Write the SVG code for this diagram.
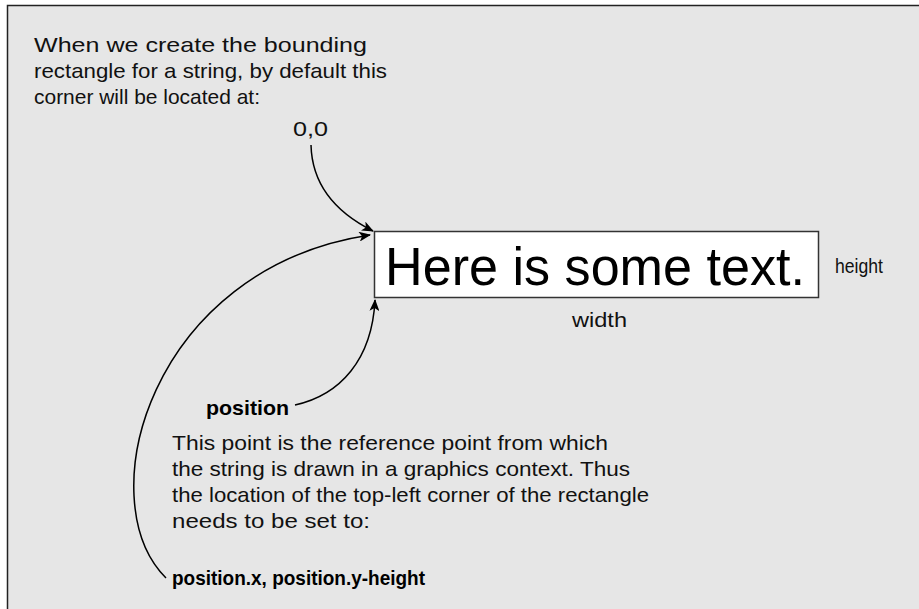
<svg xmlns="http://www.w3.org/2000/svg" width="919" height="609" viewBox="0 0 919 609">
<style>
  .t { font-family: "Liberation Sans", Arial, sans-serif; font-size: 21px; fill: #111; }
  .b { font-family: "Liberation Sans", Arial, sans-serif; font-size: 21px; font-weight: bold; fill: #000; }
  .c { fill: none; stroke: #000; stroke-width: 1.5; }
</style>
<defs>
  <marker id="ah" viewBox="0 0 12 10" markerWidth="12" markerHeight="10" refX="11" refY="5" orient="auto" markerUnits="userSpaceOnUse">
    <path d="M0,0 L12,5 L0,10 L3,5 Z" fill="#000"/>
  </marker>
</defs>
<rect x="0" y="0" width="919" height="609" fill="#ffffff"/>
<rect id="frame" x="7.5" y="5.5" width="930" height="620" fill="#e6e6e6" stroke="#222" stroke-width="1.5"/>

<g id="intro">
  <text class="t" x="34" y="52" textLength="333" lengthAdjust="spacingAndGlyphs">When we create the bounding</text>
  <text class="t" x="34" y="78" textLength="353" lengthAdjust="spacingAndGlyphs">rectangle for a string, by default this</text>
  <text class="t" x="34" y="104" textLength="226" lengthAdjust="spacingAndGlyphs">corner will be located at:</text>
  <text class="t" x="293" y="136" textLength="35" lengthAdjust="spacingAndGlyphs">0,0</text>
</g>

<g id="box">
  <rect x="374.5" y="231.5" width="444" height="66" fill="#ffffff" stroke="#333" stroke-width="1.5"/>
  <text x="385" y="285" font-family="'Liberation Sans', Arial, sans-serif" font-size="54" fill="#000" textLength="420" lengthAdjust="spacingAndGlyphs">Here is some text.</text>
</g>

<g id="height-label">
  <text class="t" x="835" y="273" font-size="18" textLength="48" lengthAdjust="spacingAndGlyphs">height</text>
</g>
<g id="width-label">
  <text class="t" x="572" y="327" font-size="18" textLength="55" lengthAdjust="spacingAndGlyphs">width</text>
</g>

<g id="position-label">
  <text class="b" x="206" y="415" textLength="83" lengthAdjust="spacingAndGlyphs">position</text>
</g>

<g id="explanation">
  <text class="t" x="172" y="450" textLength="436" lengthAdjust="spacingAndGlyphs">This point is the reference point from which</text>
  <text class="t" x="172" y="476" textLength="458" lengthAdjust="spacingAndGlyphs">the string is drawn in a graphics context. Thus</text>
  <text class="t" x="172" y="502" textLength="477" lengthAdjust="spacingAndGlyphs">the location of the top-left corner of the rectangle</text>
  <text class="t" x="172" y="528" textLength="198" lengthAdjust="spacingAndGlyphs">needs to be set to:</text>
</g>

<g id="formula">
  <text class="b" x="172" y="585" textLength="253" lengthAdjust="spacingAndGlyphs">position.x, position.y-height</text>
</g>

<g id="connectors">
  <path class="c" d="M311,145 C312,185 335,212 373,231" marker-end="url(#ah)"/>
  <path class="c" d="M166,578 C88,500 150,268 370,235" marker-end="url(#ah)"/>
  <path class="c" d="M295,405 C340,395 372,360 375,300" marker-end="url(#ah)"/>
</g>
</svg>
